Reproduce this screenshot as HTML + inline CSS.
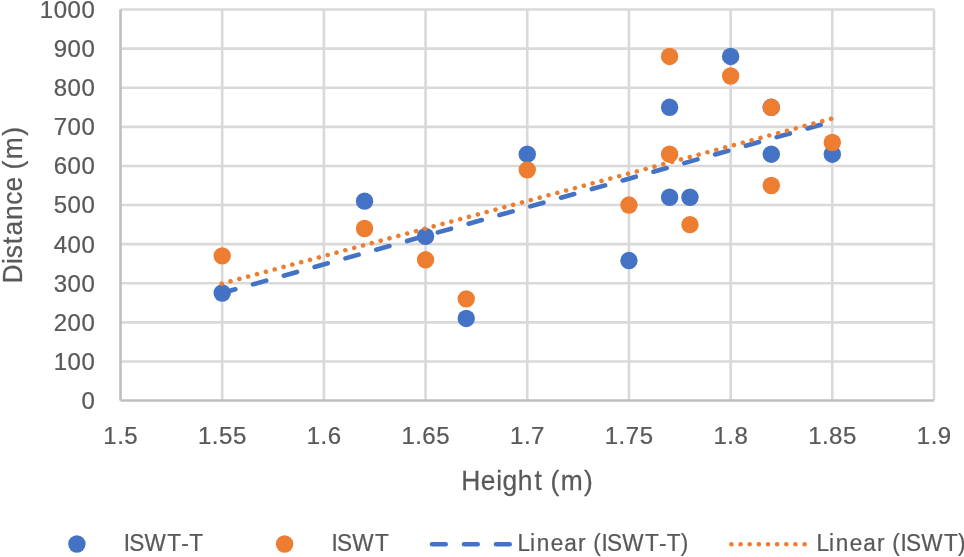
<!DOCTYPE html>
<html lang="en"><head><meta charset="utf-8"><title>Chart</title>
<style>html,body{margin:0;padding:0;background:#fff;}body{width:964px;height:557px;overflow:hidden;}svg{display:block;}text{font-family:"Liberation Sans",sans-serif;fill:#595959;stroke:#595959;stroke-width:0.25px;stroke-linejoin:round;}</style></head><body>
<svg width="964" height="557" viewBox="0 0 964 557">
<rect width="964" height="557" fill="#fff"/>
<g stroke="#D9D9D9" stroke-width="2.6" fill="none">
<line x1="120.50" y1="361.45" x2="934.00" y2="361.45"/>
<line x1="120.50" y1="322.35" x2="934.00" y2="322.35"/>
<line x1="120.50" y1="283.25" x2="934.00" y2="283.25"/>
<line x1="120.50" y1="244.15" x2="934.00" y2="244.15"/>
<line x1="120.50" y1="205.05" x2="934.00" y2="205.05"/>
<line x1="120.50" y1="165.95" x2="934.00" y2="165.95"/>
<line x1="120.50" y1="126.85" x2="934.00" y2="126.85"/>
<line x1="120.50" y1="87.75" x2="934.00" y2="87.75"/>
<line x1="120.50" y1="48.65" x2="934.00" y2="48.65"/>
<line x1="120.50" y1="9.55" x2="934.00" y2="9.55"/>
<line x1="222.19" y1="9.55" x2="222.19" y2="400.55"/>
<line x1="323.88" y1="9.55" x2="323.88" y2="400.55"/>
<line x1="425.56" y1="9.55" x2="425.56" y2="400.55"/>
<line x1="527.25" y1="9.55" x2="527.25" y2="400.55"/>
<line x1="628.94" y1="9.55" x2="628.94" y2="400.55"/>
<line x1="730.63" y1="9.55" x2="730.63" y2="400.55"/>
<line x1="832.31" y1="9.55" x2="832.31" y2="400.55"/>
<line x1="934.00" y1="9.55" x2="934.00" y2="400.55"/>
</g>
<g stroke="#BFBFBF" stroke-width="2.6" fill="none" stroke-linecap="butt">
<line x1="120.50" y1="9.55" x2="120.50" y2="400.55"/>
<line x1="120.50" y1="400.55" x2="934.00" y2="400.55"/>
</g>
<g fill="#4472C4">
<circle cx="222.19" cy="293.02" r="8.70"/>
<circle cx="364.55" cy="201.14" r="8.70"/>
<circle cx="425.56" cy="236.33" r="8.70"/>
<circle cx="466.24" cy="318.44" r="8.70"/>
<circle cx="527.25" cy="154.22" r="8.70"/>
<circle cx="628.94" cy="260.57" r="8.70"/>
<circle cx="669.61" cy="107.30" r="8.70"/>
<circle cx="669.61" cy="197.23" r="8.70"/>
<circle cx="689.95" cy="197.23" r="8.70"/>
<circle cx="730.63" cy="56.47" r="8.70"/>
<circle cx="771.30" cy="107.30" r="8.70"/>
<circle cx="771.30" cy="154.22" r="8.70"/>
<circle cx="832.31" cy="154.22" r="8.70"/>
</g><g fill="#ED7D31">
<circle cx="222.19" cy="255.88" r="8.70"/>
<circle cx="364.55" cy="228.51" r="8.70"/>
<circle cx="425.56" cy="259.79" r="8.70"/>
<circle cx="466.24" cy="298.89" r="8.70"/>
<circle cx="527.25" cy="169.86" r="8.70"/>
<circle cx="628.94" cy="205.05" r="8.70"/>
<circle cx="669.61" cy="56.47" r="8.70"/>
<circle cx="669.61" cy="154.22" r="8.70"/>
<circle cx="689.95" cy="224.60" r="8.70"/>
<circle cx="730.63" cy="76.02" r="8.70"/>
<circle cx="771.30" cy="107.30" r="8.70"/>
<circle cx="771.30" cy="185.50" r="8.70"/>
<circle cx="832.31" cy="142.49" r="8.70"/>
</g>
<line x1="222.19" y1="293.00" x2="832.31" y2="121.50" stroke="#4472C4" stroke-width="4.60" stroke-linecap="round" stroke-dasharray="13.7 18.3"/>
<line x1="221.69" y1="283.70" x2="831.81" y2="118.60" stroke="#ED7D31" stroke-width="4.60" stroke-linecap="round" stroke-dasharray="0.01 9.14"/>
<text transform="translate(81.26,408.95) scale(0.9800,1)" font-size="24.50" text-anchor="middle" x="7.11">0</text>
<text transform="translate(53.37,369.85) scale(0.9800,1)" font-size="24.50" text-anchor="middle" x="7.11 21.34 35.57">100</text>
<text transform="translate(53.37,330.75) scale(0.9800,1)" font-size="24.50" text-anchor="middle" x="7.11 21.34 35.57">200</text>
<text transform="translate(53.37,291.65) scale(0.9800,1)" font-size="24.50" text-anchor="middle" x="7.11 21.34 35.57">300</text>
<text transform="translate(53.37,252.55) scale(0.9800,1)" font-size="24.50" text-anchor="middle" x="7.11 21.34 35.57">400</text>
<text transform="translate(53.37,213.45) scale(0.9800,1)" font-size="24.50" text-anchor="middle" x="7.11 21.34 35.57">500</text>
<text transform="translate(53.37,174.35) scale(0.9800,1)" font-size="24.50" text-anchor="middle" x="7.11 21.34 35.57">600</text>
<text transform="translate(53.37,135.25) scale(0.9800,1)" font-size="24.50" text-anchor="middle" x="7.11 21.34 35.57">700</text>
<text transform="translate(53.37,96.15) scale(0.9800,1)" font-size="24.50" text-anchor="middle" x="7.11 21.34 35.57">800</text>
<text transform="translate(53.37,57.05) scale(0.9800,1)" font-size="24.50" text-anchor="middle" x="7.11 21.34 35.57">900</text>
<text transform="translate(39.43,17.95) scale(0.9800,1)" font-size="24.50" text-anchor="middle" x="7.11 21.34 35.57 49.79">1000</text>
<text transform="translate(103.09,444.20) scale(0.9800,1)" font-size="24.50" text-anchor="middle" x="7.11 17.76 28.41">1.5</text>
<text transform="translate(197.81,444.20) scale(0.9800,1)" font-size="24.50" text-anchor="middle" x="7.11 17.76 28.41 42.64">1.55</text>
<text transform="translate(306.47,444.20) scale(0.9800,1)" font-size="24.50" text-anchor="middle" x="7.11 17.76 28.41">1.6</text>
<text transform="translate(401.18,444.20) scale(0.9800,1)" font-size="24.50" text-anchor="middle" x="7.11 17.76 28.41 42.64">1.65</text>
<text transform="translate(509.84,444.20) scale(0.9800,1)" font-size="24.50" text-anchor="middle" x="7.11 17.76 28.41">1.7</text>
<text transform="translate(604.56,444.20) scale(0.9800,1)" font-size="24.50" text-anchor="middle" x="7.11 17.76 28.41 42.64">1.75</text>
<text transform="translate(713.22,444.20) scale(0.9800,1)" font-size="24.50" text-anchor="middle" x="7.11 17.76 28.41">1.8</text>
<text transform="translate(807.93,444.20) scale(0.9800,1)" font-size="24.50" text-anchor="middle" x="7.11 17.76 28.41 42.64">1.85</text>
<text transform="translate(916.59,444.20) scale(0.9800,1)" font-size="24.50" text-anchor="middle" x="7.11 17.76 28.41">1.9</text>
<text transform="translate(461.36,489.90) scale(0.9500,1)" font-size="27.80" text-anchor="middle" x="10.02 28.05 39.74 51.00 67.02 80.86 89.88 98.39 116.11 133.84">Height (m)</text>
<text transform="translate(22.10,283.38) rotate(-90) scale(0.9500,1)" font-size="27.80" text-anchor="middle" x="9.89 23.47 33.44 45.12 58.21 74.36 89.61 104.42 116.06 124.57 142.30 160.02">Distance (m)</text>
<circle cx="76.9" cy="544" r="8.70" fill="#4472C4"/>
<text transform="translate(123.50,551.20) scale(0.9300,1)" font-size="24.30" text-anchor="middle" x="3.73 14.24 34.18 54.54 66.27 77.99">ISWT-T</text>
<circle cx="284.6" cy="544" r="8.70" fill="#ED7D31"/>
<text transform="translate(331.20,551.20) scale(0.9300,1)" font-size="24.30" text-anchor="middle" x="3.73 14.24 34.18 54.54">ISWT</text>
<line x1="432" y1="544.2" x2="512" y2="544.2" stroke="#4472C4" stroke-width="4.60" stroke-linecap="round" stroke-dasharray="13.7 18.3"/>
<text transform="translate(517.90,551.20) scale(0.9300,1)" font-size="24.30" text-anchor="middle" x="6.21 15.81 26.95 42.08 56.52 68.76 77.27 85.09 93.29 103.81 123.75 144.11 155.83 167.56 179.24">Linear (ISWT-T)</text>
<line x1="731.4" y1="544.2" x2="806" y2="544.2" stroke="#ED7D31" stroke-width="4.60" stroke-linecap="round" stroke-dasharray="0.01 9.14"/>
<text transform="translate(816.90,551.20) scale(0.9300,1)" font-size="24.30" text-anchor="middle" x="6.21 15.81 26.95 42.08 56.52 68.76 77.27 85.09 93.29 103.81 123.75 144.11 155.79">Linear (ISWT)</text>
</svg></body></html>
